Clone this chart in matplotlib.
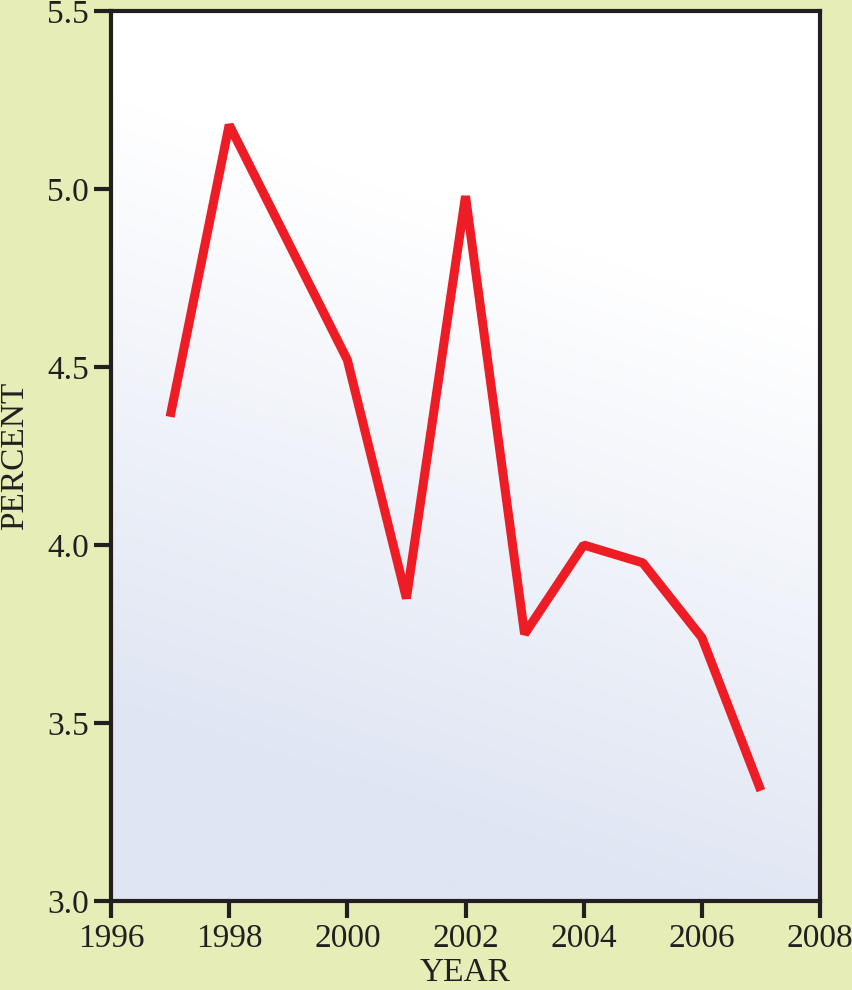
import numpy as np
import matplotlib.pyplot as plt

years = [1997, 1998, 1999, 2000, 2001, 2002, 2003, 2004, 2005, 2006, 2007]
percent = [4.36, 5.18, 4.85, 4.52, 3.85, 4.98, 3.75, 4.00, 3.95, 3.74, 3.31]
xticks = [1996, 1998, 2000, 2002, 2004, 2006, 2008]
yticks = [3.0, 3.5, 4.0, 4.5, 5.0, 5.5]

plt.rcParams['font.family'] = ['Liberation Serif', 'DejaVu Serif']
ink = '#231f20'

fig = plt.figure(figsize=(8.53, 9.9), dpi=100, facecolor='#e6edb6')
ax = fig.add_axes([111 / 853, 89 / 990, 709 / 853, 890 / 990])

# diagonal white -> pale blue background, whitest at top right
gy, gx = np.mgrid[0:1:200j, 0:1:200j]
t = np.clip((0.9 - 0.26 * gx - gy) / 0.7, 0, 1)
top = np.array([1.0, 1.0, 1.0])
bot = np.array([0xdf, 0xe5, 0xf3]) / 255
img = top * (1 - t[..., None]) + bot * t[..., None]
ax.imshow(img, extent=[0, 1, 0, 1], transform=ax.transAxes, origin='lower',
          aspect='auto', zorder=0, interpolation='bilinear')

ax.plot(years, percent, color='#ee1c25', lw=6.5, solid_joinstyle='bevel',
        solid_capstyle='butt', zorder=3)

ax.set_xlim(1996, 2008)
ax.set_ylim(3.0, 5.5)
ax.set_xticks(xticks)
ax.set_yticks(yticks)
ax.set_yticklabels(['%.1f' % v for v in yticks])
ax.tick_params(direction='out', length=12, width=3, color=ink, labelcolor=ink,
               labelsize=24, pad=4)
for s in ax.spines.values():
    s.set_linewidth(3)
    s.set_color(ink)

ax.set_xlabel('YEAR', fontsize=24, color=ink, labelpad=3)
ax.set_ylabel('PERCENT', fontsize=24, color=ink, labelpad=12)

fig.savefig('out.png', dpi=100, facecolor=fig.get_facecolor())
